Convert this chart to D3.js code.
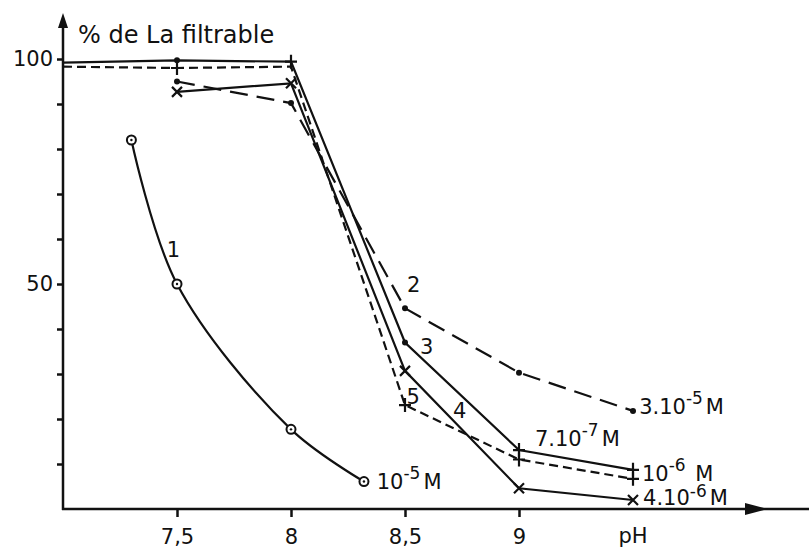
<!DOCTYPE html>
<html>
<head>
<meta charset="utf-8">
<script src="https://cdn.jsdelivr.net/npm/d3@7"></script>
<style>
  body { margin: 0; background: #fff; }
  svg text { font-family: "DejaVu Sans", sans-serif; fill: #111; }
</style>
</head>
<body>
<svg id="chart"></svg>
<script>
// pH axis and % axis
var xTicks = [7.5, 8, 8.5, 9];
var xTickLabels = ["7,5", "8", "8,5", "9"];
var yTicks = [10, 20, 30, 40, 50, 60, 70, 80, 90, 100];
var yTickLabels = ["", "", "", "", "50", "", "", "", "", "100"];

// curve 1 : 10-5 M (smooth)
var ph1 = [7.3, 7.5, 8.0, 8.32];
var val1 = [82, 50, 17.7, 6.1];
var mark1 = ["ring", "ring", "ring", "ring"];

// curve 2 : 3.10-5 M (long dash)
var ph2 = [7.5, 8.0, 8.5, 9.0, 9.5];
var val2 = [95, 90.2, 44.6, 30.3, 21.8];
var mark2 = ["dot", "dot", "dot", "dot", "dot"];

// curve 3 : 7.10-7 M (solid)
var ph3 = [7.0, 7.5, 8.0, 8.5, 9.0, 9.5];
var val3 = [99.2, 99.7, 99.4, 37, 13.1, 8.7];
var mark3 = ["", "dot", "plus", "dot", "plus", "plus"];

// curve 4 : 4.10-6 M (solid)
var ph4 = [7.5, 8.0, 8.5, 9.0, 9.5];
var val4 = [92.7, 94.6, 30.7, 4.6, 2.0];
var mark4 = ["cross", "cross", "cross", "cross", "cross"];

// curve 5 : 10-6 M (short dash)
var ph5 = [7.0, 7.5, 8.0, 8.5, 9.0, 9.5];
var val5 = [98.3, 98.0, 98.3, 23.1, 11.0, 6.7];
var mark5 = ["", "plus", "", "plus", "plus", "plus"];

// labels: text, superscript, tail, pH, value of baseline
var labelText = ["1", "2", "3", "4", "5", "10", "3.10", "7.10", "10", "4.10"];
var labelSup = ["", "", "", "", "", "-5", "-5", "-7", "-6", "-6"];
var labelTail = ["", "", "", "", "", "M", "M", "M", " M", "M"];
var labelPh = [7.455, 8.509, 8.566, 8.711, 8.507, 8.376, 9.527, 9.07, 9.539, 9.544];
var labelVal = [56, 48.2, 34.4, 20.2, 23.3, 4.4, 21.1, 14, 6.2, 1.0];
var supRaise = [0, 0, 0, 0, 0, 10, 10, 10, 10, 8];

var width = 809, height = 548;

var svg = d3.select("#chart")
    .attr("width", width)
    .attr("height", height);

var x = d3.scaleLinear().domain([7, 10]).range([63, 747]);
var y = d3.scaleLinear().domain([0, 100]).range([509, 59]);

var ink = "#111";

// y axis
var yAxis = svg.append("g")
    .attr("transform", "translate(" + x(7) + ",0)")
    .call(d3.axisLeft(y)
      .tickValues(yTicks)
      .tickSize(6)
      .tickPadding(4)
      .tickFormat(function(d, i) { return yTickLabels[i]; }));
yAxis.select(".domain").remove();
yAxis.selectAll("line").attr("stroke", ink).attr("stroke-width", 2.5);
yAxis.selectAll("text").attr("font-size", 21).attr("font-family", "DejaVu Sans");

svg.append("line")
    .attr("x1", x(7)).attr("x2", x(7))
    .attr("y1", y(0) + 1).attr("y2", 20)
    .attr("stroke", ink).attr("stroke-width", 2.5);
svg.append("path")
    .attr("d", "M" + x(7) + ",13L" + (x(7) - 5) + ",28L" + (x(7) + 5) + ",28Z")
    .attr("fill", ink);

// x axis
var xAxis = svg.append("g")
    .attr("transform", "translate(0," + y(0) + ")")
    .call(d3.axisBottom(x)
      .tickValues(xTicks)
      .tickSize(8)
      .tickPadding(12)
      .tickFormat(function(d, i) { return xTickLabels[i]; }));
xAxis.select(".domain").remove();
xAxis.selectAll("line").attr("stroke", ink).attr("stroke-width", 2.5);
xAxis.selectAll("text").attr("font-size", 21).attr("font-family", "DejaVu Sans");

svg.append("line")
    .attr("x1", x(7) - 1).attr("x2", width)
    .attr("y1", y(0)).attr("y2", y(0))
    .attr("stroke", ink).attr("stroke-width", 2.5);
svg.append("path")
    .attr("d", "M768," + y(0) + "L745," + (y(0) - 6) + "L745," + (y(0) + 6) + "Z")
    .attr("fill", ink);

svg.append("text")
    .attr("x", x(9.5))
    .attr("y", 543)
    .attr("text-anchor", "middle")
    .attr("font-size", 21)
    .text("pH");

svg.append("text")
    .attr("x", 78)
    .attr("y", 43)
    .attr("font-size", 24)
    .text("% de La filtrable");

// curves
function toPoints(ph, val, mark) {
    return ph.map(function(p, i) { return { ph: p, v: val[i], m: mark[i] }; });
}

var series = [
  { pts: toPoints(ph1, val1, mark1), dash: null, curve: d3.curveCatmullRom.alpha(0.5) },
  { pts: toPoints(ph2, val2, mark2), dash: "18,9", curve: d3.curveLinear },
  { pts: toPoints(ph3, val3, mark3), dash: null, curve: d3.curveLinear },
  { pts: toPoints(ph4, val4, mark4), dash: null, curve: d3.curveLinear },
  { pts: toPoints(ph5, val5, mark5), dash: "9,5", curve: d3.curveLinear }
];

series.forEach(function(s) {
    var line = d3.line()
        .x(function(d) { return x(d.ph); })
        .y(function(d) { return y(d.v); })
        .curve(s.curve);
    svg.append("path")
        .datum(s.pts)
        .attr("d", line)
        .attr("fill", "none")
        .attr("stroke", ink)
        .attr("stroke-width", 2.2)
        .attr("stroke-dasharray", s.dash);
});

// markers
var allPts = [];
series.forEach(function(s) { allPts = allPts.concat(s.pts); });

var marks = svg.selectAll(".mark")
    .data(allPts.filter(function(d) { return d.m; }))
  .enter().append("g")
    .attr("class", "mark")
    .attr("transform", function(d) { return "translate(" + x(d.ph) + "," + y(d.v) + ")"; });

marks.each(function(d) {
    var g = d3.select(this);
    if (d.m === "dot") {
      g.append("circle").attr("r", 3).attr("fill", ink);
    } else if (d.m === "plus") {
      g.append("path").attr("d", "M-6,0H6M0,-7V7")
        .attr("stroke", ink).attr("stroke-width", 2.2);
    } else if (d.m === "cross") {
      g.append("path").attr("d", "M-5,-5L5,5M-5,5L5,-5")
        .attr("stroke", ink).attr("stroke-width", 2.2);
    } else if (d.m === "ring") {
      g.append("circle").attr("r", 4.5).attr("fill", "#fff")
        .attr("stroke", ink).attr("stroke-width", 2);
      g.append("circle").attr("r", 1.2).attr("fill", ink);
    }
});

// labels
labelText.forEach(function(t, i) {
    var txt = svg.append("text")
        .attr("x", x(labelPh[i]))
        .attr("y", y(labelVal[i]))
        .attr("font-size", 21)
        .text(t);
    if (labelSup[i]) {
      txt.append("tspan")
          .attr("dy", -supRaise[i])
          .attr("font-size", 17)
          .text(labelSup[i]);
      txt.append("tspan")
          .attr("dy", supRaise[i])
          .attr("dx", 3)
          .text(labelTail[i]);
    }
});
</script>
</body>
</html>
